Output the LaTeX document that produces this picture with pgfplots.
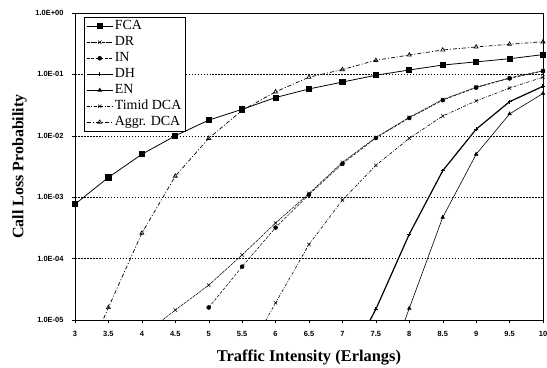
\documentclass[border=0pt]{standalone}
\usepackage{pgfplots}
\pgfplotsset{compat=1.18}
\usepackage{fontspec}
\setmainfont{Liberation Serif}
\newfontfamily\arialfont{Liberation Sans}
\begin{document}
\begin{tikzpicture}
\begin{axis}[
  scale only axis,
  width=468bp, height=307bp,
  ymode=log,
  xmin=3, xmax=10, ymin=1e-5, ymax=1,
  xtick={3,3.5,4,4.5,5,5.5,6,6.5,7,7.5,8,8.5,9,9.5,10},
  xticklabels={3,3.5,4,4.5,5,5.5,6,6.5,7,7.5,8,8.5,9,9.5,10},
  ytick={1e-5,1e-4,1e-3,1e-2,1e-1,1},
  yticklabels={1.0E-05,1.0E-04,1.0E-03,1.0E-02,1.0E-01,1.0E+00},
  minor tick num=0,
  yminorticks=false,
  tick align=outside,
  major tick length=3bp,
  tick style={black, thin},
  xtick pos=bottom, ytick pos=left,
  ticklabel style={font=\arialfont\bfseries\fontsize{7.5}{8}\selectfont},
  yticklabel style={xshift=-5bp},
  xticklabel style={yshift=-5bp},
  ymajorgrids,
  grid style={black, line width=0.4pt, dash pattern=on 1.6pt off 1.4pt},
  axis line style={black, line width=0.6pt},
  xlabel={Traffic Intensity (Erlangs)},
  ylabel={Call Loss Probability},
  xlabel style={font=\bfseries\fontsize{16.5}{18}\selectfont, at={(axis description cs:0.5,-0.1358)}, anchor=base},
  ylabel style={font=\bfseries\fontsize{16}{18}\selectfont, at={(axis description cs:-0.1105,0.5)}, anchor=base},
  legend style={at={(0.019,0.987)}, anchor=north west, draw=black, line width=0.5pt, fill=white,
    inner xsep=2bp, inner ysep=1bp,
    font=\fontsize{14}{16}\selectfont,
    nodes={inner xsep=1.5bp, inner ysep=1.25bp, text height=10bp, text depth=3.5bp},
    cells={anchor=west}},
  legend image code/.code={\draw[mark repeat=2,mark phase=2,#1] plot coordinates {(0bp,0bp) (13bp,0bp) (26bp,0bp)};},
]
% FCA
\addplot[black, line width=0.8pt, mark=square*, mark size=2.6pt, mark options={solid}] coordinates {
(3,7.7e-4)(3.5,2.1e-3)(4,5.0e-3)(4.5,0.010)(5,0.018)(5.5,0.027)(6,0.042)(6.5,0.058)(7,0.075)(7.5,0.097)(8,0.118)(8.5,0.142)(9,0.16)(9.5,0.18)(10,0.21)};
\addlegendentry{FCA}
% DR
\addplot[black, line width=0.5pt, dash pattern=on 3pt off 0.8pt, mark=x, mark size=2.5pt, mark options={solid}] coordinates {
(4.0,5.5e-6)(4.5,1.45e-5)(5,3.7e-5)(5.5,1.15e-4)(6,3.8e-4)(6.5,1.15e-3)(7,3.7e-3)(7.5,9.4e-3)(8,0.020)(8.5,0.039)(9,0.062)(9.5,0.088)(10,0.115)};
\addlegendentry{DR}
% IN
\addplot[black, line width=0.5pt, dash pattern=on 3pt off 1.5pt, mark=*, mark size=2pt, mark options={solid}] coordinates {
(5,1.6e-5)(5.5,7.4e-5)(6,3.2e-4)(6.5,1.1e-3)(7,3.5e-3)(7.5,9.2e-3)(8,0.0195)(8.5,0.038)(9,0.061)(9.5,0.086)(10,0.113)};
\addlegendentry{IN}
% DH
\addplot[black, line width=1.2pt, mark=+, mark size=2pt, mark options={solid}] coordinates {
(7,1.4e-6)(7.5,1.5e-5)(8,2.5e-4)(8.5,2.7e-3)(9,0.0128)(9.5,0.036)(10,0.064)};
\addlegendentry{DH}
% EN
\addplot[black, line width=0.6pt, mark=triangle*, mark size=2pt, mark options={solid}] coordinates {
(7.5,5e-7)(8,1.55e-5)(8.5,4.7e-4)(9,5e-3)(9.5,0.0227)(10,0.049)};
\addlegendentry{EN}
% Timid DCA
\addplot[black, line width=0.6pt, dash pattern=on 3pt off 1.5pt on 0.8pt off 1.5pt, mark=x, mark size=2.3pt, mark options={solid}] coordinates {
(5.5,2e-6)(6,1.9e-5)(6.5,1.7e-4)(7,9e-4)(7.5,3.3e-3)(8,9.1e-3)(8.5,0.021)(9,0.037)(9.5,0.060)(10,0.090)};
\addlegendentry{Timid DCA}
% Aggr. DCA
\addplot[black, line width=0.7pt, dash pattern=on 4pt off 2pt on 1pt off 2pt, mark=triangle, mark size=2.3pt, mark options={solid}] coordinates {
(3.0,9e-7)(3.5,1.6e-5)(4,2.6e-4)(4.5,2.2e-3)(5,9.1e-3)(5.5,2.6e-2)(6,5.2e-2)(6.5,9.0e-2)(7,0.12)(7.5,0.17)(8,0.207)(8.5,0.25)(9,0.28)(9.5,0.31)(10,0.34)};
\addlegendentry{Aggr. DCA}
\end{axis}
\pgfresetboundingbox
\path (current axis.south west) ++(-75bp,-47bp) coordinate (bl);
\path (current axis.north east) ++(4bp,13bp) coordinate (tr);
\path (bl) rectangle (tr);
\end{tikzpicture}
\end{document}
